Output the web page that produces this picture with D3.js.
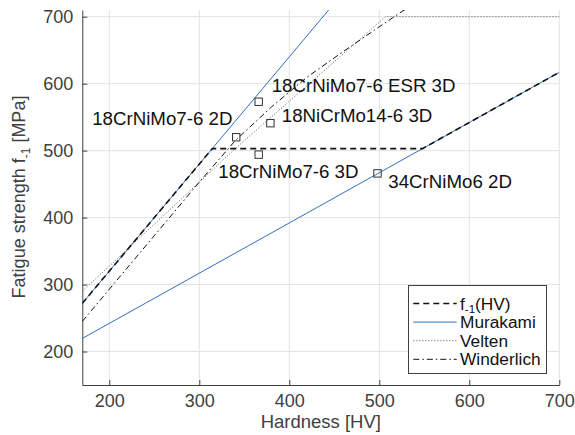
<!DOCTYPE html>
<html>
<head>
<meta charset="utf-8">
<script src="https://cdn.jsdelivr.net/npm/d3@7"></script>
<style>
  body { margin: 0; background: #fff; }
  svg { font-family: "Liberation Sans", Arial, Helvetica, sans-serif; }
</style>
</head>
<body>
<div id="vis"></div>
<script>
// hardness [HV] and fatigue strength [MPa]
const f1HV = [170, 314.4, 548, 700];
const f1MPa = [272, 503, 503, 617];

const murakamiHV = [170, 700];
const murakamiMPa = [272, 1120];
const murakami2HV = [170, 700];
const murakami2MPa = [219.5, 617];

const veltenHV = [170, 340, 507, 700];
const veltenMPa = [290, 503, 700, 700];

const winderlichHV = [170, 250, 300, 340, 380, 420, 460, 500, 530];
const winderlichMPa = [245, 373, 453, 515, 565, 610, 648, 685, 712];

const sampleNames = ['18CrNiMo7-6 2D', '18CrNiMo7-6 ESR 3D', '18NiCrMo14-6 3D', '18CrNiMo7-6 3D', '34CrNiMo6 2D'];
const sampleHV = [341, 366, 379, 366, 498];
const sampleMPa = [520, 573, 541, 494, 466];
const labelHV = [181, 380.4, 391.6, 321.1, 510];
const labelMPa = [538.3, 588, 543.2, 458.7, 443.8];

const xTicks = [200, 300, 400, 500, 600, 700];
const yTicks = [200, 300, 400, 500, 600, 700];

const W = 575, H = 435;
const x = d3.scaleLinear().domain([170, 700]).range([82.3, 559.3]);
const y = d3.scaleLinear().domain([150, 710]).range([385, 10]);

const svg = d3.select('#vis').append('svg')
  .attr('width', W).attr('height', H);

svg.append('defs').append('clipPath').attr('id', 'clip')
  .append('rect')
  .attr('x', x(170)).attr('y', y(710))
  .attr('width', x(700) - x(170)).attr('height', y(150) - y(710));

// grid
svg.append('g').selectAll('line').data(xTicks).join('line')
  .attr('x1', d => x(d)).attr('x2', d => x(d))
  .attr('y1', y(710)).attr('y2', y(150))
  .attr('stroke', '#e3e3e3').attr('stroke-width', 1);
svg.append('g').selectAll('line').data(yTicks).join('line')
  .attr('x1', x(170)).attr('x2', x(700))
  .attr('y1', d => y(d)).attr('y2', d => y(d))
  .attr('stroke', '#e3e3e3').attr('stroke-width', 1);

// axes
const xAxis = svg.append('g')
  .attr('transform', `translate(0,${y(150)})`)
  .call(d3.axisBottom(x).tickValues(xTicks).tickSizeInner(-5).tickSizeOuter(0).tickPadding(9));
const yAxis = svg.append('g')
  .attr('transform', `translate(${x(170)},0)`)
  .call(d3.axisLeft(y).tickValues(yTicks).tickSizeInner(-5).tickSizeOuter(0).tickPadding(9));
[xAxis, yAxis].forEach(a => {
  a.select('.domain').attr('stroke', '#404040');
  a.selectAll('.tick line').attr('stroke', '#404040');
  a.selectAll('.tick text').attr('fill', '#404040').style('font-size', '18px')
    .style('font-family', '"Liberation Sans", Arial, sans-serif');
});

// lines
const line = d3.line().x(d => x(d[0])).y(d => y(d[1]));
const plot = svg.append('g').attr('clip-path', 'url(#clip)');
const zip = (a, b) => a.map((v, i) => [v, b[i]]);

plot.append('path').datum(zip(murakamiHV, murakamiMPa))
  .attr('d', line).attr('fill', 'none').attr('stroke', '#2f6fc4').attr('stroke-width', 1);
plot.append('path').datum(zip(murakami2HV, murakami2MPa))
  .attr('d', line).attr('fill', 'none').attr('stroke', '#2f6fc4').attr('stroke-width', 1);
plot.append('path').datum(zip(veltenHV, veltenMPa))
  .attr('d', line).attr('fill', 'none').attr('stroke', '#555')
  .attr('stroke-width', 1).attr('stroke-dasharray', '1,2');
plot.append('path').datum(zip(winderlichHV, winderlichMPa))
  .attr('d', line).attr('fill', 'none').attr('stroke', '#111')
  .attr('stroke-width', 1).attr('stroke-dasharray', '6,3,1.5,3');
plot.append('path').datum(zip(f1HV, f1MPa))
  .attr('d', line).attr('fill', 'none').attr('stroke', '#111')
  .attr('stroke-width', 1.6).attr('stroke-dasharray', '6,4');

// markers
svg.append('g').selectAll('rect').data(sampleHV).join('rect')
  .attr('x', (d, i) => x(d) - 3.7).attr('y', (d, i) => y(sampleMPa[i]) - 3.7)
  .attr('width', 7.4).attr('height', 7.4)
  .attr('fill', 'none').attr('stroke', '#333').attr('stroke-width', 1);

svg.append('g').selectAll('text').data(sampleNames).join('text')
  .attr('x', (d, i) => x(labelHV[i])).attr('y', (d, i) => y(labelMPa[i]))
  .style('font-size', '18.7px').attr('fill', '#111')
  .text(d => d);

// axis labels
svg.append('text')
  .attr('x', (x(170) + x(700)) / 2).attr('y', 428)
  .attr('text-anchor', 'middle').style('font-size', '18.5px').attr('fill', '#404040')
  .text('Hardness [HV]');

const yl = svg.append('text')
  .attr('transform', 'translate(25,197) rotate(-90)')
  .attr('text-anchor', 'middle').style('font-size', '18px').attr('fill', '#404040');
yl.append('tspan').text('Fatigue strength f');
yl.append('tspan').attr('dy', 5).style('font-size', '12px').text('-1');
yl.append('tspan').attr('dy', -5).text(' [MPa]');

// legend
const legend = svg.append('g');
legend.append('rect')
  .attr('x', 408.5).attr('y', 285.5).attr('width', 138).attr('height', 88)
  .attr('fill', '#fff').attr('stroke', '#404040').attr('stroke-width', 1);
const legendRows = [
  {dash: '6,4', color: '#111', w: 1.6, name: 'f1'},
  {dash: null, color: '#2f6fc4', w: 1, name: 'Murakami'},
  {dash: '1,2', color: '#555', w: 1, name: 'Velten'},
  {dash: '6,3,1.5,3', color: '#111', w: 1, name: 'Winderlich'}
];
legendRows.forEach((r, i) => {
  const ry = 303.5 + i * 18.6;
  legend.append('line')
    .attr('x1', 413.3).attr('x2', 456.7).attr('y1', ry).attr('y2', ry)
    .attr('stroke', r.color).attr('stroke-width', r.w)
    .attr('stroke-dasharray', r.dash);
  const t = legend.append('text').attr('x', 460).attr('y', ry + 6)
    .style('font-size', '17.3px').attr('fill', '#111');
  if (r.name === 'f1') {
    t.append('tspan').text('f');
    t.append('tspan').attr('dy', 3.5).style('font-size', '11.5px').text('-1');
    t.append('tspan').attr('dy', -3.5).text('(HV)');
  } else {
    t.text(r.name);
  }
});
</script>
</body>
</html>
